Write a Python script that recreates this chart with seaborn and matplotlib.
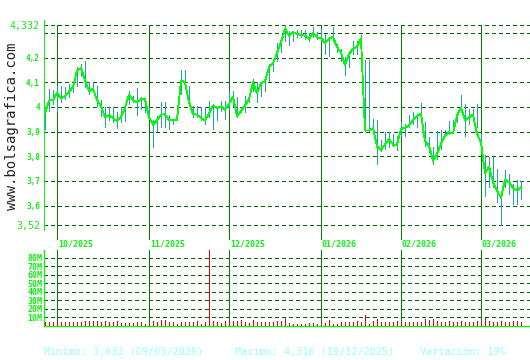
import numpy as np
import pandas as pd
import matplotlib
matplotlib.use("Agg")
import matplotlib.pyplot as plt
import seaborn as sns

# ---------------- data ----------------
close = [
    3.974, 4.026, 4.028, 4.057, 4.036, 4.042, 4.062, 4.080, 4.147, 4.158,
    4.107, 4.064, 4.073, 4.028, 4.003, 3.958, 3.966, 3.955, 3.942, 3.961,
    3.996, 4.050, 4.028, 4.019, 4.031, 4.031, 3.958, 3.928, 3.945, 3.969,
    3.970, 3.947, 3.945, 3.947, 4.107, 4.100, 4.019, 3.972, 3.968, 3.955,
    3.945, 3.972, 4.005, 3.996, 4.001, 3.989, 4.012, 4.042, 3.961, 3.982,
    4.005, 4.032, 4.100, 4.055, 4.096, 4.104, 4.161, 4.177, 4.218, 4.262,
    4.316, 4.289, 4.303, 4.296, 4.292, 4.289, 4.276, 4.299, 4.282, 4.280,
    4.258, 4.276, 4.285, 4.242, 4.222, 4.168, 4.215, 4.235, 4.245, 4.276,
    3.904, 3.904, 3.915, 3.839, 3.826, 3.847, 3.870, 3.847, 3.847, 3.911,
    3.915, 3.924, 3.947, 3.965, 3.972, 3.861, 3.843, 3.782, 3.809, 3.850,
    3.884, 3.897, 3.893, 3.965, 3.996, 3.945, 3.958, 3.968, 3.891, 3.857,
    3.730, 3.758, 3.695, 3.661, 3.632, 3.704, 3.695, 3.670, 3.661, 3.674,
]
high = [
    3.999, 4.073, 4.069, 4.086, 4.086, 4.080, 4.093, 4.100, 4.161, 4.174,
    4.188, 4.100, 4.100, 4.086, 4.026, 3.999, 3.999, 4.001, 3.981, 3.999,
    4.012, 4.064, 4.046, 4.077, 4.042, 4.032, 3.999, 3.945, 3.965, 4.019,
    4.019, 3.969, 3.951, 4.009, 4.150, 4.150, 4.086, 4.005, 4.005, 4.001,
    4.001, 4.022, 4.012, 3.996, 4.022, 4.022, 4.059, 4.064, 4.042, 3.999,
    4.046, 4.050, 4.114, 4.100, 4.100, 4.110, 4.174, 4.181, 4.259, 4.262,
    4.332, 4.309, 4.309, 4.312, 4.312, 4.312, 4.299, 4.323, 4.303, 4.316,
    4.296, 4.285, 4.325, 4.255, 4.235, 4.201, 4.222, 4.269, 4.269, 4.293,
    4.191, 4.191, 3.951, 3.947, 3.866, 3.897, 3.897, 3.891, 3.884, 3.938,
    3.931, 3.969, 3.978, 3.972, 4.015, 3.938, 3.877, 3.836, 3.904, 3.907,
    3.907, 3.942, 3.945, 3.969, 4.050, 4.012, 3.992, 3.992, 4.012, 3.891,
    3.803, 3.796, 3.796, 3.749, 3.647, 3.745, 3.726, 3.688, 3.704, 3.701,
]
low = [
    3.911, 3.985, 4.012, 3.985, 4.019, 4.032, 4.039, 4.059, 4.086, 4.127,
    4.080, 4.053, 4.059, 4.005, 3.965, 3.918, 3.945, 3.938, 3.915, 3.938,
    3.942, 4.012, 4.019, 3.968, 3.992, 3.978, 3.958, 3.836, 3.901, 3.920,
    3.918, 3.911, 3.931, 3.947, 4.053, 4.080, 4.005, 3.958, 3.958, 3.945,
    3.931, 3.958, 3.911, 3.945, 3.985, 3.951, 3.992, 4.005, 3.958, 3.978,
    3.978, 4.019, 4.066, 4.019, 4.046, 4.066, 4.107, 4.147, 4.188, 4.222,
    4.269, 4.249, 4.269, 4.282, 4.282, 4.276, 4.269, 4.282, 4.276, 4.269,
    4.215, 4.208, 4.269, 4.222, 4.188, 4.131, 4.161, 4.215, 4.215, 4.188,
    3.904, 3.904, 3.904, 3.769, 3.823, 3.830, 3.836, 3.843, 3.826, 3.884,
    3.884, 3.918, 3.931, 3.918, 3.961, 3.843, 3.816, 3.769, 3.789, 3.830,
    3.884, 3.891, 3.897, 3.938, 3.990, 3.884, 3.931, 3.945, 3.918, 3.850,
    3.638, 3.674, 3.674, 3.614, 3.520, 3.674, 3.647, 3.607, 3.607, 3.627,
]
volume_m = [
    3.8, 3.8, 3.8, 5.0, 3.8, 3.8, 3.8, 3.8, 3.8, 3.8,
    5.0, 5.0, 5.0, 5.0, 3.8, 5.0, 3.8, 3.8, 5.0, 2.7,
    2.7, 2.7, 2.7, 3.8, 3.8, 1.5, 2.0, 5.0, 3.8, 6.2,
    6.2, 3.8, 3.8, 1.5, 3.8, 3.8, 3.8, 3.8, 5.0, 1.5,
    3.8, 89.0, 5.0, 3.8, 2.7, 5.0, 5.0, 5.0, 5.0, 6.2,
    3.8, 2.7, 6.2, 3.8, 3.8, 4.6, 4.6, 4.6, 5.0, 5.0,
    8.5, 3.5, 2.3, 1.5, 1.5, 1.5, 2.7, 3.5, 2.3, 3.5,
    3.5, 6.2, 2.3, 1.5, 3.8, 3.8, 3.8, 3.8, 5.0, 3.8,
    12.0, 1.5, 5.0, 7.3, 3.8, 3.8, 3.8, 3.8, 5.0, 3.8,
    3.8, 3.8, 3.8, 3.8, 3.8, 7.3, 6.2, 7.3, 5.0, 3.8,
    3.8, 5.0, 3.8, 3.8, 5.0, 3.8, 3.8, 3.8, 5.0, 3.8,
    8.5, 5.0, 3.8, 3.8, 5.0, 3.8, 3.8, 5.0, 5.0, 3.8,
]
month_labels = ["10/2025", "11/2025", "12/2025", "01/2026", "02/2026", "03/2026"]
month_first_day = [3, 26, 46, 69, 89, 109]   # trading-day index where each month begins
price_grid = [3.52, 3.6, 3.7, 3.8, 3.9, 4.0, 4.1, 4.2, 4.3, 4.332]
price_tick_labels = ["3,52", "3,6", "3,7", "3,8", "3,9", "4", "4,1", "4,2", "", "4,332"]
vol_grid = [10, 20, 30, 40, 50, 60, 70, 80]
vol_tick_labels = ["10M", "20M", "30M", "40M", "50M", "60M", "70M", "80M"]
min_date = "09/03/2026"
max_date = "19/12/2025"

days = np.arange(len(close))
df = pd.DataFrame({"day": days, "close": close, "high": high, "low": low, "vol": volume_m})

# ---------------- style ----------------
sns.set_theme(style="white")
plt.rcParams["font.family"] = ["DejaVu Sans Mono", "DejaVu Sans"]

BRIGHT = "#11ee11"
LINE = "#00ff00"
DARK = "#006400"
MONTH = "#008000"
TEAL = "#1fa3b0"
RED = "#ee0000"
CYAN = "#99ffff"
PX = 0.72  # one pixel in points

W, H = 530, 360
fig = plt.figure(figsize=(W / 100, H / 100), dpi=100, facecolor="white")


def px_axes(l, t, r, b):
    return fig.add_axes([l / W, 1 - b / H, (r - l) / W, (b - t) / H])


ax = px_axes(43.5, 20, 530, 240)
axv = px_axes(43.5, 250, 530, 325.5)

xlim = (-0.375, 121.25)
ytop, ybot = 4.3523, 3.4604
dash = (0, (4, 3))

# ---------- price panel ----------
ax.set_facecolor("white")
ax.set_xlim(*xlim)
ax.set_ylim(ybot, ytop)
for s in ["top", "right", "bottom"]:
    ax.spines[s].set_visible(False)
ax.spines["left"].set_color(BRIGHT)
ax.spines["left"].set_linewidth(PX)
ax.spines["left"].set_bounds(3.501, ytop)

for v in price_grid:
    ax.axhline(v, color=DARK, lw=PX, ls=dash, zorder=1, antialiased=False)
ax.vlines(month_first_day, ybot, 4.332, color=MONTH, lw=PX, zorder=2,
          antialiased=False)

ax.vlines(df["day"], df["low"], df["high"], colors=TEAL, lw=PX, zorder=3,
          antialiased=False)
sns.lineplot(data=df, x="day", y="close", ax=ax, color=LINE, linewidth=0.6,
             estimator=None, legend=False, zorder=4, antialiased=False)
ax.set_xlabel("")
ax.set_ylabel("")
ax.set_xticks([])
ax.set_yticks(price_grid)
ax.set_yticklabels(price_tick_labels)
ax.tick_params(axis="y", length=0, pad=2.6, colors=BRIGHT)
for lbl, txt in zip(ax.get_yticklabels(), price_tick_labels):
    if txt in ("4,332", "3,52"):
        lbl.set_fontsize(7.2)
    else:
        lbl.set_fontsize(5.6)
        lbl.set_fontweight("bold")

for m, lab in zip(month_first_day, month_labels):
    ax.text(m + 0.25, -4 / 220, lab, transform=ax.get_xaxis_transform(),
            color=BRIGHT, fontsize=6, fontweight="bold", ha="left", va="center",
            clip_on=False)

# ---------- volume panel ----------
axv.set_facecolor("white")
axv.set_xlim(*xlim)
axv.set_ylim(0, 89)
for s in ["top", "right"]:
    axv.spines[s].set_visible(False)
for s in ["left", "bottom"]:
    axv.spines[s].set_color(BRIGHT)
    axv.spines[s].set_linewidth(1.0)
for v in vol_grid:
    axv.axhline(v, color=DARK, lw=PX, ls=dash, zorder=1, antialiased=False)
axv.vlines(month_first_day, 0, 89, color=MONTH, lw=PX, zorder=2, antialiased=False)
axv.vlines(df["day"], 0, df["vol"], colors=RED, lw=PX, zorder=3, antialiased=False)
axv.set_xticks([])
axv.set_yticks(vol_grid)
axv.set_yticklabels(vol_tick_labels)
axv.tick_params(axis="y", length=0, pad=1.0, colors=BRIGHT, labelsize=6)
for lbl in axv.get_yticklabels():
    lbl.set_fontweight("bold")

# ---------- texts ----------
fig.text(12.5 / W, 1 - 126 / H, "www.bolsagrafica.com", rotation=90,
         fontsize=10, color="#222222", ha="center", va="center")

cmin, cmax = min(close), max(close)
variation = round((cmax - cmin) / cmin * 100)
fmt = lambda v: f"{v:.3f}".replace(".", ",")
fig.text(44.5 / W, 1 - 352 / H, f"Minimo: {fmt(cmin)} ({min_date})",
         color=CYAN, fontsize=7.3, ha="left", va="center")
fig.text(235 / W, 1 - 352 / H, f"Maximo: {fmt(cmax)} ({max_date})",
         color=CYAN, fontsize=7.3, ha="left", va="center")
fig.text(420 / W, 1 - 352 / H, f"Variación: {variation}%",
         color=CYAN, fontsize=7.3, ha="left", va="center")

fig.savefig("out.png", dpi=100, facecolor="white")
